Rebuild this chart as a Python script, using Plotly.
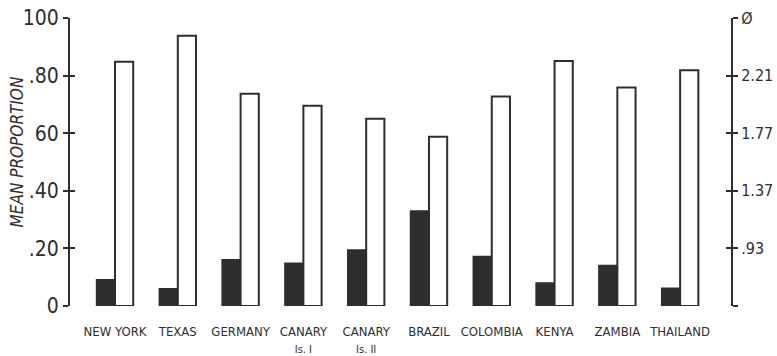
import plotly.graph_objects as go

# Regions compared
regions = ["NEW YORK", "TEXAS", "GERMANY",
           "CANARY<br><span style='font-size:11px'>Is. I</span>",
           "CANARY<br><span style='font-size:11px'>Is. II</span>",
           "BRAZIL", "COLOMBIA", "KENYA", "ZAMBIA", "THAILAND"]

# Mean proportion (left scale, 0-100)
dark_values = [9.0, 5.9, 16.0, 14.8, 19.4, 32.9, 17.1, 7.9, 14.0, 6.1]
open_values = [84.8, 93.8, 73.7, 69.5, 65.0, 58.8, 72.7, 85.1, 75.9, 81.9]

# Axis tick labels
left_ticks = [0, 20, 40, 60, 80, 100]
left_labels = ["0", ".20", ".40", "60", ".80", "100"]
right_labels = ["", ".93", "1.37", "1.77", "2.21", "\u00d8"]

INK = "#2e2e2e"
FONT = "DejaVu Sans Condensed, Liberation Sans Narrow, sans-serif"

positions = list(range(len(regions)))

fig = go.Figure()
fig.add_trace(go.Bar(
    x=positions, y=dark_values,
    marker=dict(color=INK, line=dict(color=INK, width=2)),
    showlegend=False,
))
fig.add_trace(go.Bar(
    x=positions, y=open_values,
    marker=dict(color="white", line=dict(color=INK, width=2)),
    showlegend=False,
))
# empty traces so the companion axes (inner ticks, right scale) get drawn
for ax in ("y2", "y3", "y4"):
    fig.add_trace(go.Scatter(x=[None], y=[None], yaxis=ax, mode="markers",
                             showlegend=False, hoverinfo="skip"))

common_y = dict(range=[0, 100], tickvals=left_ticks, tickcolor=INK,
                ticklen=5, tickwidth=2, showgrid=False, zeroline=False,
                fixedrange=True, automargin=False)

fig.update_layout(
    width=777, height=356,
    margin=dict(l=70, r=46, t=18, b=50),
    paper_bgcolor="white", plot_bgcolor="white",
    barmode="group", bargap=0.42, bargroupgap=0,
    font=dict(family=FONT, color=INK),
    xaxis=dict(
        range=[-0.717, 9.81], tickvals=positions, automargin=False,
        ticktext=regions, showline=False, ticks="", showgrid=False,
        zeroline=False, tickfont=dict(size=13, family=FONT, color=INK),
        ticklabelstandoff=16,
    ),
    yaxis=dict(
        **common_y, side="left", ticks="outside", ticktext=left_labels,
        showline=True, linecolor=INK, linewidth=2,
        tickfont=dict(size=21, family=FONT, color=INK),
    ),
    yaxis3=dict(
        **common_y, overlaying="y", side="left", ticks="inside",
        showticklabels=False, showline=False,
    ),
    yaxis2=dict(
        **common_y, overlaying="y", side="right", ticks="outside",
        ticktext=right_labels, showline=True, linecolor=INK, linewidth=2,
        tickfont=dict(size=16, family=FONT, color=INK),
    ),
    yaxis4=dict(
        **common_y, overlaying="y", side="right", ticks="inside",
        showticklabels=False, showline=False,
    ),
    annotations=[dict(
        text="MEAN PROPORTION", textangle=-90, showarrow=False,
        xref="paper", yref="paper", x=-0.081, y=0.535,
        xanchor="center", yanchor="middle",
        font=dict(size=17, family=FONT, color=INK, style="italic"),
    )],
)

fig.write_html("out.html")
